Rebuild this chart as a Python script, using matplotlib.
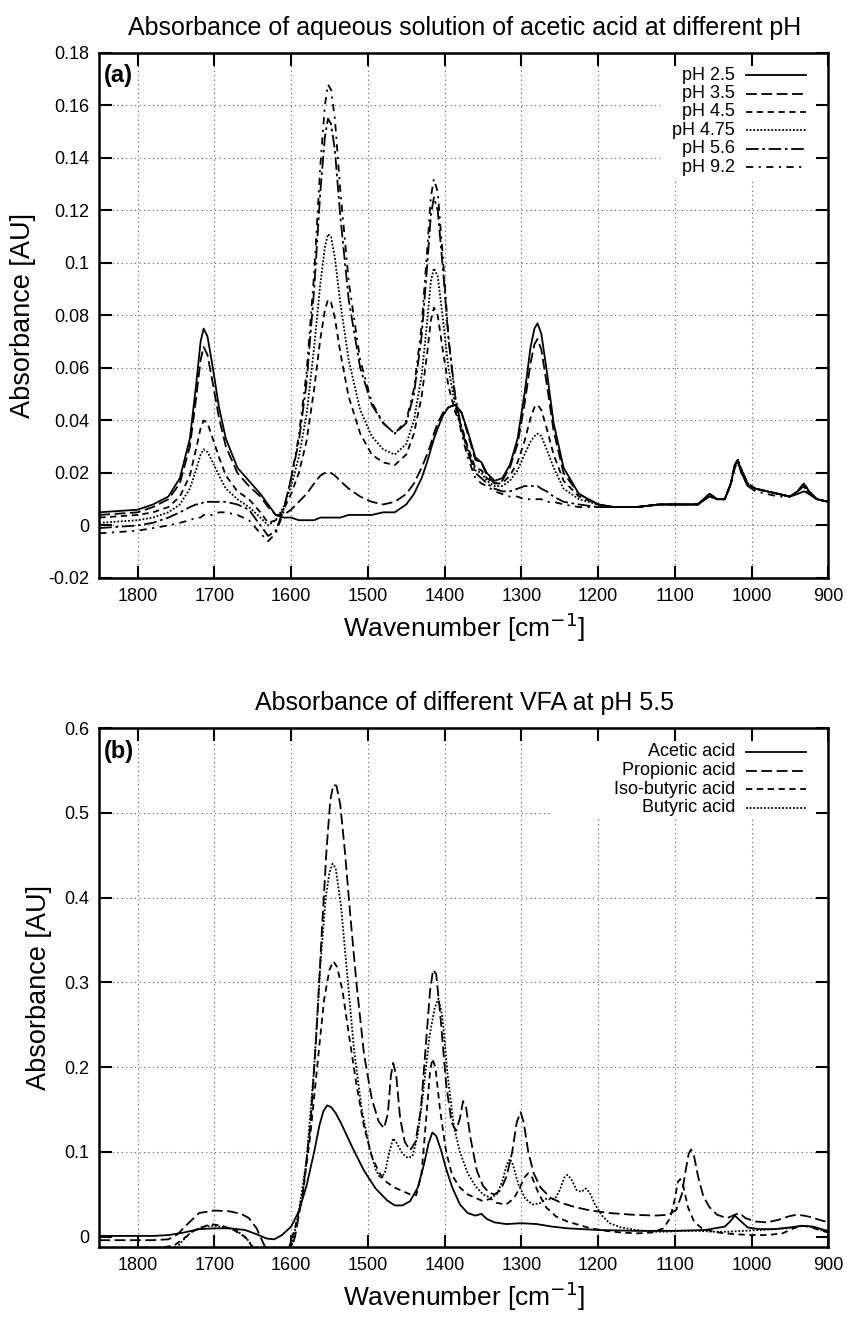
import numpy as np
import matplotlib.pyplot as plt

plt.rcParams['font.family'] = ['Liberation Sans', 'DejaVu Sans']

# ---------------- panel (a): acetic acid at different pH ----------------
wn_a = [1850, 1800, 1780, 1760, 1745, 1732, 1724, 1718, 1714, 1709,
        1702, 1694, 1685, 1670, 1655, 1640, 1630, 1620, 1610, 1600,
        1590, 1580, 1570, 1562, 1556, 1552, 1548, 1543, 1536, 1525,
        1510, 1495, 1480, 1465, 1450, 1440, 1430, 1423, 1418, 1414,
        1409, 1402, 1395, 1386, 1378, 1370, 1360, 1352, 1345, 1335,
        1325, 1315, 1305, 1296, 1288, 1283, 1279, 1274, 1267, 1258,
        1245, 1225, 1200, 1180, 1150, 1120, 1090, 1070, 1055, 1045,
        1035, 1027, 1022, 1018, 1013, 1005, 995, 980, 965, 950,
        940, 932, 925, 915, 900]

ph25 = [0.005, 0.006, 0.008, 0.011, 0.018, 0.033, 0.053, 0.070, 0.075, 0.072,
        0.060, 0.045, 0.033, 0.022, 0.017, 0.012, 0.008, 0.004, 0.003, 0.003,
        0.002, 0.002, 0.002, 0.003, 0.003, 0.003, 0.003, 0.003, 0.003, 0.004,
        0.004, 0.004, 0.005, 0.005, 0.008, 0.012, 0.018, 0.024, 0.029, 0.033,
        0.037, 0.042, 0.045, 0.046, 0.043, 0.036, 0.026, 0.024, 0.020, 0.017,
        0.018, 0.023, 0.033, 0.050, 0.068, 0.075, 0.077, 0.073, 0.059, 0.039,
        0.022, 0.012, 0.008, 0.007, 0.007, 0.008, 0.008, 0.008, 0.011, 0.010,
        0.010, 0.016, 0.023, 0.025, 0.020, 0.015, 0.014, 0.013, 0.012, 0.011,
        0.012, 0.013, 0.012, 0.010, 0.009]

ph35 = [0.004, 0.005, 0.007, 0.010, 0.016, 0.030, 0.048, 0.063, 0.068, 0.065,
        0.054, 0.041, 0.030, 0.020, 0.015, 0.011, 0.007, 0.004, 0.004, 0.006,
        0.009, 0.012, 0.016, 0.019, 0.020, 0.020, 0.020, 0.019, 0.017, 0.014,
        0.011, 0.009, 0.008, 0.009, 0.012, 0.016, 0.022, 0.027, 0.031, 0.035,
        0.039, 0.043, 0.045, 0.046, 0.043, 0.035, 0.025, 0.024, 0.019, 0.016,
        0.017, 0.022, 0.031, 0.046, 0.062, 0.069, 0.071, 0.067, 0.054, 0.036,
        0.020, 0.012, 0.008, 0.007, 0.007, 0.008, 0.008, 0.008, 0.012, 0.010,
        0.010, 0.016, 0.022, 0.024, 0.020, 0.015, 0.014, 0.013, 0.012, 0.011,
        0.013, 0.015, 0.012, 0.010, 0.009]

ph45 = [0.003, 0.004, 0.005, 0.007, 0.011, 0.019, 0.029, 0.037, 0.040, 0.039,
        0.033, 0.026, 0.019, 0.013, 0.010, 0.005, 0.001, 0.002, 0.006, 0.012,
        0.020, 0.032, 0.052, 0.071, 0.082, 0.086, 0.085, 0.079, 0.066, 0.049,
        0.035, 0.027, 0.024, 0.023, 0.027, 0.035, 0.049, 0.065, 0.078, 0.083,
        0.080, 0.066, 0.053, 0.043, 0.038, 0.030, 0.022, 0.021, 0.018, 0.016,
        0.016, 0.019, 0.024, 0.032, 0.041, 0.045, 0.046, 0.044, 0.037, 0.027,
        0.017, 0.011, 0.008, 0.007, 0.007, 0.008, 0.008, 0.008, 0.012, 0.010,
        0.010, 0.016, 0.023, 0.025, 0.021, 0.016, 0.014, 0.013, 0.012, 0.011,
        0.013, 0.016, 0.013, 0.010, 0.009]

ph475 = [0.001, 0.002, 0.003, 0.005, 0.008, 0.014, 0.021, 0.027, 0.029, 0.028,
         0.024, 0.019, 0.014, 0.010, 0.007, 0.003, 0.000, 0.002, 0.007, 0.015,
         0.026, 0.042, 0.068, 0.092, 0.106, 0.111, 0.110, 0.102, 0.085, 0.063,
         0.044, 0.034, 0.029, 0.027, 0.031, 0.040, 0.057, 0.077, 0.093, 0.098,
         0.095, 0.078, 0.060, 0.045, 0.037, 0.029, 0.021, 0.020, 0.017, 0.015,
         0.015, 0.017, 0.021, 0.027, 0.032, 0.034, 0.035, 0.034, 0.029, 0.022,
         0.014, 0.010, 0.008, 0.007, 0.007, 0.008, 0.008, 0.008, 0.012, 0.010,
         0.010, 0.016, 0.023, 0.025, 0.021, 0.016, 0.014, 0.013, 0.012, 0.011,
         0.013, 0.015, 0.012, 0.010, 0.009]

ph56 = [-0.001, 0.000, 0.001, 0.003, 0.005, 0.007, 0.008, 0.008, 0.009, 0.009,
        0.009, 0.009, 0.009, 0.008, 0.006, 0.000, -0.004, -0.002, 0.006, 0.018,
        0.032, 0.054, 0.090, 0.127, 0.148, 0.155, 0.153, 0.143, 0.118, 0.086,
        0.060, 0.046, 0.039, 0.035, 0.039, 0.050, 0.072, 0.098, 0.118, 0.125,
        0.120, 0.097, 0.071, 0.049, 0.037, 0.028, 0.020, 0.018, 0.016, 0.014,
        0.013, 0.013, 0.014, 0.015, 0.015, 0.015, 0.015, 0.014, 0.013, 0.011,
        0.009, 0.008, 0.007, 0.007, 0.007, 0.008, 0.008, 0.008, 0.012, 0.010,
        0.010, 0.016, 0.023, 0.025, 0.021, 0.016, 0.014, 0.013, 0.012, 0.011,
        0.013, 0.016, 0.013, 0.010, 0.009]

ph92 = [-0.003, -0.002, -0.001, 0.000, 0.001, 0.002, 0.003, 0.003, 0.004, 0.004,
        0.004, 0.005, 0.005, 0.004, 0.002, -0.003, -0.006, -0.003, 0.005, 0.018,
        0.034, 0.058, 0.096, 0.137, 0.160, 0.168, 0.166, 0.155, 0.128, 0.093,
        0.063, 0.047, 0.039, 0.035, 0.040, 0.052, 0.076, 0.104, 0.125, 0.132,
        0.127, 0.101, 0.072, 0.047, 0.035, 0.026, 0.018, 0.016, 0.015, 0.013,
        0.012, 0.011, 0.011, 0.010, 0.010, 0.010, 0.010, 0.010, 0.009, 0.009,
        0.008, 0.007, 0.007, 0.007, 0.007, 0.008, 0.008, 0.008, 0.012, 0.010,
        0.010, 0.016, 0.022, 0.024, 0.020, 0.015, 0.013, 0.012, 0.011, 0.011,
        0.013, 0.016, 0.013, 0.010, 0.009]

labels_a = ['pH 2.5', 'pH 3.5', 'pH 4.5', 'pH 4.75', 'pH 5.6', 'pH 9.2']
series_a = [ph25, ph35, ph45, ph475, ph56, ph92]

# ---------------- panel (b): different VFA at pH 5.5 ----------------
acetic_wn = [1850, 1780, 1760, 1740, 1720, 1700, 1680, 1660, 1645, 1632, 1622, 1612,
             1600, 1590, 1580, 1570, 1563, 1558, 1553, 1548, 1542, 1535, 1520, 1505,
             1490, 1475, 1465, 1455, 1445, 1435, 1427, 1421, 1416, 1411, 1405, 1398,
             1390, 1380, 1370, 1360, 1352, 1345, 1335, 1320, 1300, 1280, 1260, 1240,
             1200, 1150, 1100, 1060, 1048, 1035, 1028, 1022, 1016, 1005, 990, 970,
             950, 935, 920, 905, 900]
acetic_ab = [0.001, 0.001, 0.002, 0.005, 0.009, 0.010, 0.010, 0.008, 0.003, -0.002, -0.003, 0.002,
             0.012, 0.030, 0.060, 0.100, 0.132, 0.148, 0.155, 0.153, 0.146, 0.134, 0.105, 0.078,
             0.057, 0.043, 0.037, 0.037, 0.042, 0.058, 0.085, 0.110, 0.123, 0.119, 0.103, 0.080,
             0.058, 0.038, 0.028, 0.025, 0.027, 0.021, 0.017, 0.015, 0.016, 0.015, 0.012, 0.010,
             0.008, 0.007, 0.007, 0.008, 0.010, 0.012, 0.018, 0.025, 0.020, 0.011, 0.009, 0.009,
             0.011, 0.013, 0.012, 0.008, 0.007]

propionic_wn = [1850, 1780, 1760, 1748, 1735, 1720, 1700, 1680, 1665, 1655, 1645, 1635,
                1620, 1605, 1595, 1585, 1575, 1567, 1560, 1554, 1549, 1545, 1541, 1536,
                1530, 1523, 1515, 1505, 1495, 1486, 1479, 1474, 1470, 1467, 1463, 1458,
                1452, 1445, 1438, 1431, 1425, 1419, 1415, 1411, 1405, 1398, 1391, 1385,
                1380, 1376, 1372, 1366, 1358, 1350, 1342, 1335, 1327, 1319, 1312, 1306,
                1301, 1297, 1291, 1284, 1275, 1262, 1248, 1230, 1210, 1185, 1155, 1125,
                1108, 1098, 1091, 1086, 1082, 1079, 1075, 1070, 1063, 1055, 1045, 1032,
                1022, 1016, 1008, 995, 980, 965, 952, 942, 932, 922, 912, 900]
propionic_ab = [-0.004, -0.004, -0.003, 0.003, 0.015, 0.028, 0.031, 0.030, 0.027, 0.022, 0.010, -0.010,
                -0.030, -0.030, 0.000, 0.050, 0.130, 0.240, 0.360, 0.455, 0.515, 0.533, 0.532, 0.510,
                0.455, 0.380, 0.300, 0.215, 0.163, 0.136, 0.128, 0.145, 0.190, 0.205, 0.190, 0.140,
                0.112, 0.102, 0.112, 0.150, 0.220, 0.290, 0.315, 0.310, 0.255, 0.180, 0.135, 0.125,
                0.140, 0.160, 0.152, 0.115, 0.078, 0.060, 0.052, 0.050, 0.055, 0.072, 0.100, 0.135,
                0.147, 0.135, 0.100, 0.075, 0.058, 0.046, 0.040, 0.035, 0.031, 0.028, 0.026, 0.025,
                0.026, 0.032, 0.050, 0.078, 0.098, 0.103, 0.095, 0.072, 0.048, 0.035, 0.026, 0.022,
                0.026, 0.028, 0.022, 0.018, 0.017, 0.020, 0.024, 0.026, 0.025, 0.023, 0.020, 0.017]

isobutyric_wn = [1850, 1770, 1752, 1740, 1725, 1705, 1690, 1675, 1660, 1648, 1638, 1620,
                 1605, 1595, 1585, 1575, 1565, 1557, 1550, 1545, 1540, 1533, 1525, 1515,
                 1505, 1495, 1485, 1475, 1465, 1455, 1445, 1437, 1430, 1424, 1419, 1416,
                 1412, 1406, 1398, 1390, 1380, 1370, 1360, 1350, 1340, 1332, 1320, 1310,
                 1302, 1296, 1291, 1286, 1278, 1268, 1255, 1240, 1225, 1210, 1190, 1170,
                 1150, 1130, 1115, 1106, 1100, 1096, 1093, 1089, 1083, 1075, 1065, 1050,
                 1035, 1020, 1000, 980, 960, 945, 935, 925, 912, 900]
isobutyric_ab = [-0.013, -0.013, -0.010, -0.002, 0.008, 0.015, 0.013, 0.008, 0.000, -0.015, -0.030, -0.040,
                 -0.020, 0.010, 0.050, 0.120, 0.210, 0.280, 0.315, 0.325, 0.318, 0.290, 0.240, 0.180,
                 0.130, 0.095, 0.075, 0.064, 0.058, 0.054, 0.050, 0.049, 0.075, 0.140, 0.195, 0.210,
                 0.200, 0.150, 0.100, 0.072, 0.058, 0.050, 0.046, 0.042, 0.045, 0.040, 0.038, 0.045,
                 0.058, 0.070, 0.075, 0.070, 0.052, 0.035, 0.024, 0.018, 0.014, 0.010, 0.007, 0.005,
                 0.004, 0.005, 0.010, 0.022, 0.045, 0.065, 0.068, 0.060, 0.035, 0.018, 0.010, 0.006,
                 0.004, 0.003, 0.002, 0.002, 0.004, 0.010, 0.013, 0.012, 0.008, 0.005]

butyric_wn = [1850, 1770, 1755, 1745, 1730, 1715, 1700, 1685, 1670, 1655, 1645, 1632,
              1615, 1600, 1590, 1580, 1570, 1562, 1555, 1550, 1546, 1542, 1535, 1527,
              1518, 1508, 1498, 1490, 1484, 1478, 1472, 1467, 1462, 1455, 1448, 1442,
              1435, 1428, 1420, 1413, 1408, 1403, 1396, 1388, 1380, 1370, 1360, 1350,
              1340, 1332, 1325, 1319, 1315, 1311, 1304, 1295, 1285, 1275, 1267, 1262,
              1256, 1250, 1244, 1240, 1235, 1228, 1222, 1216, 1211, 1204, 1195, 1185,
              1170, 1150, 1130, 1110, 1090, 1070, 1050, 1030, 1010, 990, 970, 955,
              940, 930, 920, 910, 900]
butyric_ab = [-0.030, -0.030, -0.022, -0.008, 0.006, 0.012, 0.013, 0.011, 0.007, -0.005, -0.020, -0.035,
              -0.040, -0.015, 0.030, 0.090, 0.200, 0.320, 0.400, 0.430, 0.440, 0.435, 0.390, 0.310,
              0.220, 0.150, 0.105, 0.080, 0.069, 0.075, 0.100, 0.116, 0.110, 0.098, 0.093, 0.095,
              0.120, 0.170, 0.235, 0.270, 0.281, 0.260, 0.190, 0.130, 0.100, 0.075, 0.060, 0.050,
              0.046, 0.050, 0.065, 0.085, 0.092, 0.085, 0.062, 0.045, 0.038, 0.040, 0.045, 0.044,
              0.045, 0.055, 0.070, 0.073, 0.068, 0.055, 0.053, 0.057, 0.052, 0.038, 0.025, 0.016,
              0.011, 0.008, 0.006, 0.006, 0.007, 0.007, 0.006, 0.006, 0.007, 0.008, 0.009, 0.010,
              0.012, 0.013, 0.011, 0.008, 0.006]

labels_b = ['Acetic acid', 'Propionic acid', 'Iso-butyric acid', 'Butyric acid']
series_b = [(acetic_wn, acetic_ab), (propionic_wn, propionic_ab),
            (isobutyric_wn, isobutyric_ab), (butyric_wn, butyric_ab)]

styles_a = ['-', (0, (6, 2.5)), (0, (3.5, 2.5)), (0, (1, 1)), (0, (7, 2, 1.5, 2)), (0, (4, 3, 1.2, 3))]
styles_b = ['-', (0, (6, 2.5)), (0, (3.5, 2.5)), (0, (1, 1))]


def setup(ax, ylim, yticks, ylabels, box_x, box_y):
    ax.set_xlim(1850, 900)
    ax.set_ylim(*ylim)
    xt = [1800, 1700, 1600, 1500, 1400, 1300, 1200, 1100, 1000, 900]
    ax.set_xticks(xt)
    ax.set_yticks(yticks)
    ax.set_yticklabels(ylabels)
    ax.tick_params(direction='in', length=9, width=1.5, labelsize=13,
                   top=True, right=True, pad=7)
    for s in ax.spines.values():
        s.set_linewidth(1.8)
    # dotted grid, interrupted by the key box
    x0, x1 = ax.get_xlim()
    for x in xt[:-1]:
        fx = (x0 - x) / (x0 - x1)
        top = box_y if fx > box_x else 1
        ax.axvline(x, ymin=0, ymax=top, color='0.35', lw=0.8, ls=(0, (1, 3)), zorder=1)
    y0, y1 = ylim
    for y in yticks[1:-1]:
        fy = (y - y0) / (y1 - y0)
        right = box_x if fy > box_y else 1
        ax.axhline(y, xmin=0, xmax=right, color='0.35', lw=0.8, ls=(0, (1, 3)), zorder=1)
    ax.set_xlabel('Wavenumber [cm$^{-1}$]', fontsize=19, labelpad=4)
    ax.set_ylabel('Absorbance [AU]', fontsize=19.5, labelpad=9)


def key(ax, labels, styles, y_first, step):
    for i, (lab, st) in enumerate(zip(labels, styles)):
        y = y_first - i * step
        ax.text(0.872, y, lab, transform=ax.transAxes, ha='right', va='center', fontsize=13)
        ax.plot([0.887, 0.969], [y, y], transform=ax.transAxes, color='black', lw=1.3, ls=st)


fig = plt.figure(figsize=(8.47, 13.18), dpi=100)
ax1 = fig.add_axes([0.1172, 0.5615, 0.8608, 0.3983])
ax2 = fig.add_axes([0.1172, 0.0539, 0.8608, 0.3937])

for ys, st in zip(series_a, styles_a):
    ax1.plot(wn_a, ys, color='black', lw=1.3, ls=st)
setup(ax1, (-0.02, 0.18), [-0.02, 0, 0.02, 0.04, 0.06, 0.08, 0.1, 0.12, 0.14, 0.16, 0.18],
      ['-0.02', '0', '0.02', '0.04', '0.06', '0.08', '0.1', '0.12', '0.14', '0.16', '0.18'],
      0.769, 0.762)
key(ax1, labels_a, styles_a, 0.958, 0.0352)
ax1.text(0.006, 0.958, '(a)', transform=ax1.transAxes, fontsize=17, fontweight='bold', va='center')
fig.text(0.548, 0.9734, 'Absorbance of aqueous solution of acetic acid at different pH',
         fontsize=18, ha='center', va='baseline')

for (xs, ys), st in zip(series_b, styles_b):
    ax2.plot(xs, ys, color='black', lw=1.3, ls=st)
setup(ax2, (-0.012, 0.6), [0, 0.1, 0.2, 0.3, 0.4, 0.5, 0.6],
      ['0', '0.1', '0.2', '0.3', '0.4', '0.5', '0.6'], 0.621, 0.827)
key(ax2, labels_b, styles_b, 0.954, 0.0358)
ax2.text(0.006, 0.954, '(b)', transform=ax2.transAxes, fontsize=17, fontweight='bold', va='center')
fig.text(0.548, 0.4613, 'Absorbance of different VFA at pH 5.5',
         fontsize=18, ha='center', va='baseline')

fig.savefig('out.png', dpi=100)
